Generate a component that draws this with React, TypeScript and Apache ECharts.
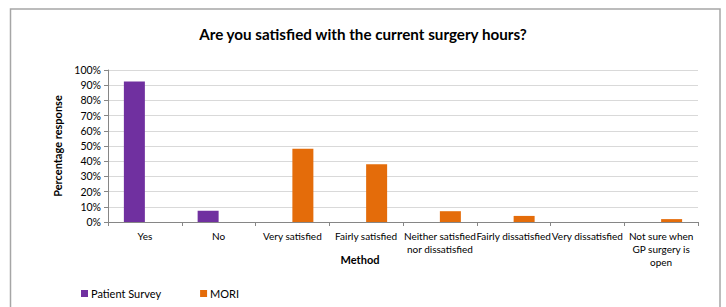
import React, { useEffect, useRef } from "react";
import * as echarts from "echarts";

const categories = [
  "Yes",
  "No",
  "Very satisfied",
  "Fairly satisfied",
  "Neither satisfied\nnor dissatisfied",
  "Fairly dissatisfied",
  "Very dissatisfied",
  "Not sure when\nGP surgery is\nopen",
];
const patientSurvey: (number | null)[] = [92.5, 7.4, null, null, null, null, null, null];
const mori: (number | null)[] = [null, null, 48.2, 38, 7.1, 4, 0, 1.9];
const seriesNames = ["Patient Survey", "MORI"];

const FONT = "Lato, 'Liberation Sans', sans-serif";

export default function App() {
  const ref = useRef<HTMLDivElement>(null);
  useEffect(() => {
    if (!ref.current) return;
    const chart = echarts.init(ref.current, null, { renderer: "svg" });
    chart.setOption({
      animation: false,
      backgroundColor: "#ffffff",
      title: {
        text: "Are you satisfied with the current surgery hours?",
        left: "center",
        top: 21,
        textStyle: { fontFamily: FONT, fontSize: 15.2, fontWeight: "bold", color: "#000" },
      },
      legend: {
        left: 76,
        top: 283,
        itemWidth: 7,
        itemHeight: 7,
        itemGap: 39,
        icon: "rect",
        textStyle: { fontFamily: FONT, fontSize: 11, color: "#000", padding: [0, 0, 0, -2] },
        data: seriesNames,
      },
      grid: { left: 108, right: 28, top: 70, bottom: 85, containLabel: false },
      xAxis: {
        type: "category",
        data: categories,
        axisLine: { lineStyle: { color: "#868686", width: 1 } },
        axisTick: { show: true, alignWithLabel: false, length: 4, lineStyle: { color: "#868686" } },
        axisLabel: {
          interval: 0,
          fontFamily: FONT,
          fontSize: 10,
          color: "#000",
          lineHeight: 13,
          margin: 7,
        },
      },
      yAxis: {
        type: "value",
        min: 0,
        max: 100,
        interval: 10,
        name: "Percentage response",
        nameLocation: "middle",
        nameRotate: 90,
        nameGap: 38,
        nameTextStyle: { fontFamily: FONT, fontSize: 11, fontWeight: "bold", color: "#000" },
        axisLine: { show: true, lineStyle: { color: "#868686" } },
        axisTick: { show: true, inside: false, length: 4, lineStyle: { color: "#868686" } },
        axisLabel: {
          formatter: "{value}%",
          fontFamily: FONT,
          fontSize: 10.5,
          color: "#000",
          margin: 7,
        },
        splitLine: { lineStyle: { color: "#d9d9d9", width: 1.2 } },
      },
      series: [
        {
          name: seriesNames[0],
          type: "bar",
          data: patientSurvey,
          barWidth: 21,
          barGap: "0%",
          itemStyle: { color: "#7030A0" },
        },
        {
          name: seriesNames[1],
          type: "bar",
          data: mori,
          barWidth: 21,
          barGap: "0%",
          itemStyle: { color: "#E46C0A" },
        },
      ],
      graphic: [
        {
          type: "rect",
          shape: { x: 10.5, y: 9, width: 709.5, height: 320 },
          style: { fill: "none", stroke: "#a6a6a6", lineWidth: 1.5 },
          silent: true,
        },
        {
          type: "text",
          x: 360,
          y: 259,
          style: {
            text: "Method",
            fontFamily: FONT,
            fontSize: 11,
            fontWeight: "bold",
            fill: "#000",
            align: "center",
            verticalAlign: "middle",
          },
        },
      ],
    });
    return () => chart.dispose();
  }, []);
  return (
    <div
      ref={ref}
      style={{ position: "fixed", left: 0, top: 0, width: 726, height: 307 }}
    />
  );
}
